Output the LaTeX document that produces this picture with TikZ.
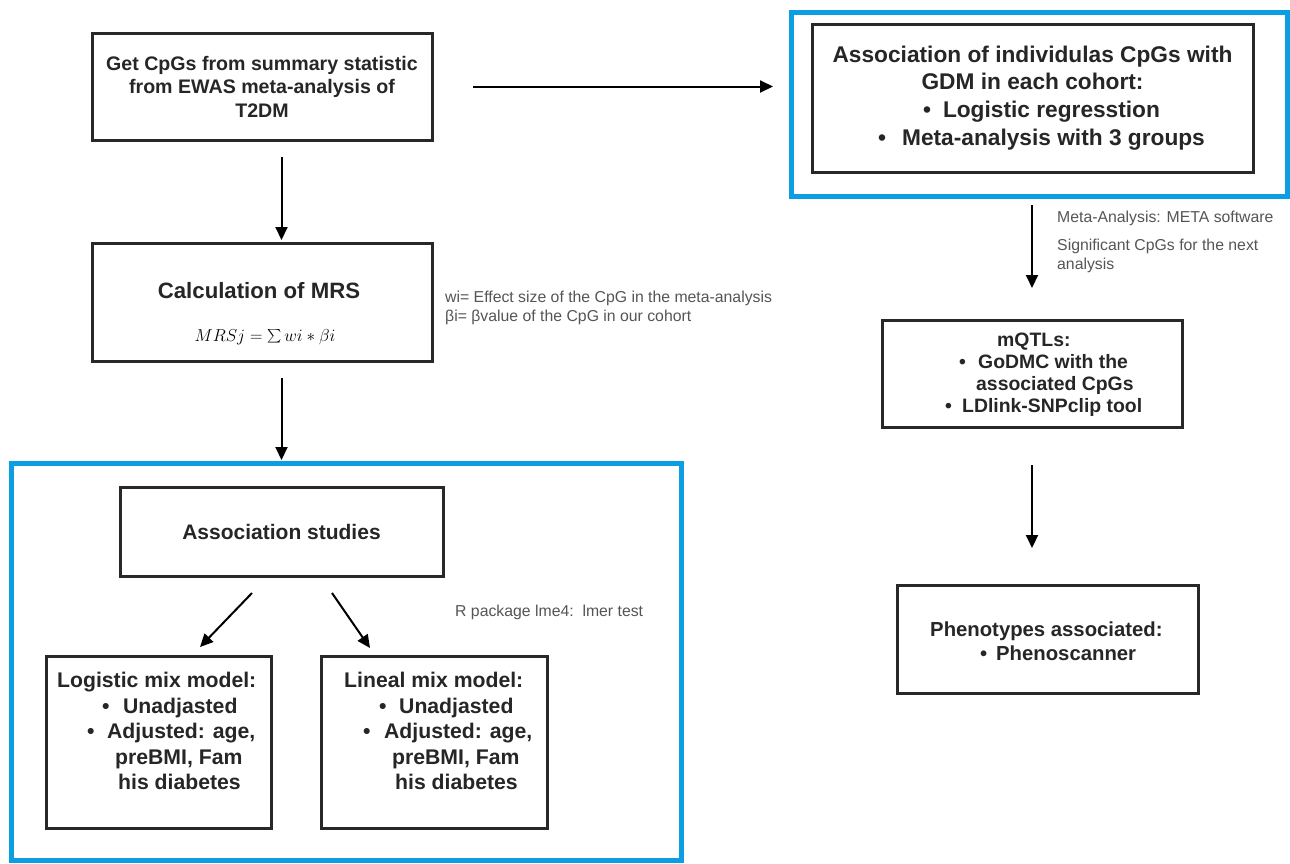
\documentclass[tikz,border=0pt]{standalone}
\usepackage{fontspec}
\usepackage{graphicx}
\setmainfont{Liberation Sans}
\usetikzlibrary{arrows.meta}
\definecolor{frameblue}{RGB}{12,158,226}
\definecolor{boxline}{RGB}{40,40,40}
\definecolor{notegray}{RGB}{85,85,85}
\tikzset{
  box/.style   ={draw=boxline, line width=3pt, fill=white, inner sep=0pt},
  bluefr/.style={draw=frameblue, line width=5pt, inner sep=0pt},
  txt/.style   ={font=\bfseries, text=black!85, inner sep=0pt},
  note/.style  ={font=\fontsize{15.8}{19}\selectfont, text=notegray,
                 align=left, inner sep=0pt, anchor=west},
  fl/.style    ={-{Triangle[length=13pt,width=12pt]}, line width=2pt},
}
\newcommand{\bitem}[2]{\hspace*{#1}\makebox[#2][l]{\textbullet}}
\newcommand{\fs}[2]{\fontsize{#1}{#2}\selectfont}

\begin{document}
\begin{tikzpicture}[x=1pt,y=-1pt]
  \fill[white] (0,0) rectangle (1290,863);
  \useasboundingbox (0,0) rectangle (1290,863);

  % left column: selection of CpGs and MRS
  \node[box, minimum width=340pt, minimum height=107pt, txt, align=center,
        font=\bfseries\fs{19.6}{23.5}] (get) at (262,86.5)
        {Get CpGs from summary statistic\\ from EWAS meta-analysis of\\ T2DM};

  \node[box, minimum width=340pt, minimum height=118pt] (calc) at (262,302) {};
  \node[txt, font=\bfseries\fs{22.2}{26}] (calct) at (259,291) {Calculation of MRS};
  \node[inner sep=0pt, font=\fs{16.8}{20}] (calcf) at (265,337)
        {$MRSj = \mathop{\raisebox{-1pt}{\scalebox{1.35}{$\sum$}}} wi * \beta i$};
  \node[note] (wnote) at (445,307.5)
        {wi= Effect size of the CpG in the meta-analysis\\ βi= βvalue of the CpG in our cohort};

  % association studies (blue frame)
  \node[bluefr, minimum width=670pt, minimum height=397pt] (frameB) at (346,662) {};
  \node[box, minimum width=323pt, minimum height=89pt, txt,
        font=\bfseries\fs{21}{25}] (assoc) at (281.5,531.5) {Association studies};
  \node[note] (rnote) at (455,612) {R package lme4:\ \ lmer test};

  \node[box, minimum width=225pt, minimum height=172pt] (logbox) at (158.5,742) {};
  \node[txt, align=left, anchor=west, font=\bfseries\fs{21.2}{25.5}] (logt) at (57,731)
        {Logistic mix model:\\ \bitem{45pt}{21pt}Unadjasted\\ \bitem{30pt}{20pt}Adjusted: age,\\
         \hspace*{58pt}preBMI, Fam\\ \hspace*{61pt}his diabetes};
  \node[box, minimum width=226pt, minimum height=172pt] (linbox) at (434,742) {};
  \node[txt, align=left, anchor=west, font=\bfseries\fs{21.2}{25.5}] (lint) at (344,731)
        {Lineal mix model:\\ \bitem{35pt}{20pt}Unadjasted\\ \bitem{19pt}{21pt}Adjusted: age,\\
         \hspace*{48pt}preBMI, Fam\\ \hspace*{51pt}his diabetes};

  % right column: individual CpGs
  \node[bluefr, minimum width=496pt, minimum height=183.5pt] (frameA) at (1039,104.25) {};
  \node[box, minimum width=441pt, minimum height=148pt, txt, align=center,
        font=\bfseries\fs{22.7}{27.7}] (assocind) at (1032.5,98)
        {Association of individulas CpGs with\\ GDM in each cohort:\\
         \hspace*{18pt}\makebox[20pt][l]{\textbullet}Logistic regresstion\\
         \hspace*{18pt}\makebox[24pt][l]{\textbullet}Meta-analysis with 3 groups};
  \node[note] (mnote) at (1057,242)
        {Meta-Analysis: META software\\[9pt] Significant CpGs for the next\\ analysis};

  \node[box, minimum width=300pt, minimum height=107pt] (mqtl) at (1032,373.5) {};
  \node[txt, align=left, anchor=west, font=\bfseries\fs{19.4}{22}] (mqtlt) at (945,375)
        {\hspace*{52pt}mQTLs:\\ \bitem{14pt}{19pt}GoDMC with the\\
         \hspace*{31pt}associated CpGs\\ \bitem{0pt}{17pt}LDlink-SNPclip tool};

  \node[box, minimum width=301pt, minimum height=108pt] (phen) at (1047.5,639) {};
  \node[txt, align=left, anchor=west, font=\bfseries\fs{20.3}{24}] (phent) at (930,641)
        {Phenotypes associated:\\ \bitem{50pt}{16pt}Phenoscanner};

  % arrows
  \draw[fl, shorten <=39.5pt, shorten >=15.5pt] (get.east) -- (get.east -| frameA.west);
  \draw[fl, shorten <=15.5pt, shorten >=1.5pt] (get.south -| assoc.north) -- (calc.north -| assoc.north);
  \draw[fl, shorten <=15.5pt, shorten >=1pt] (calc.south -| assoc.north) -- (frameB.north -| assoc.north);
  \draw[fl] ([xshift=-29.5pt,yshift=-15.5pt]assoc.south) -- ([xshift=41.5pt,yshift=7.5pt]logbox.north);
  \draw[fl] ([xshift=50.5pt,yshift=-15.5pt]assoc.south) -- ([xshift=-64pt,yshift=6.5pt]linbox.north);
  \draw[fl, shorten <=6.5pt, shorten >=30.5pt] (frameA.south -| mqtl.north) -- (mqtl.north);
  \draw[fl, shorten <=36.5pt, shorten >=35.5pt] (mqtl.south) -- (mqtl.south |- phen.north);
\end{tikzpicture}
\end{document}
